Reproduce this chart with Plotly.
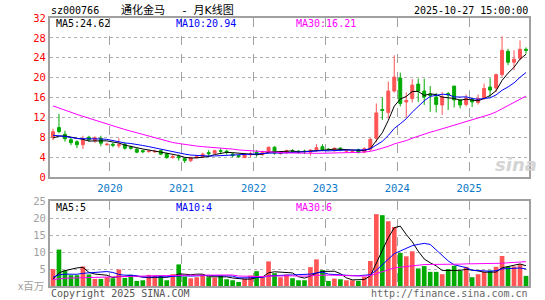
import plotly.graph_objects as go
import pandas as pd

# ---- data (monthly, Mar 2019 .. Oct 2025) ----
months = pd.period_range("2019-03", "2025-10", freq="M").strftime("%Y-%m").tolist()

open_ = [8.0, 9.95, 8.6, 7.5, 7.1, 6.5, 8.0, 7.3, 7.8, 6.5,
         6.6, 6.3, 6.6, 6.0, 5.6, 5.3, 5.1, 5.05, 5.3, 4.7,
         3.9, 4.1, 3.7, 3.3, 3.9, 4.1, 4.9, 4.8, 5.3, 5.2,
         4.6, 4.3, 3.9, 4.5, 5.0, 4.5, 5.0, 6.0, 4.7, 4.9,
         5.3, 5.2, 5.2, 5.0, 5.5, 6.1, 5.6, 5.3, 5.8, 5.2,
         5.0, 5.5, 5.0, 5.6, 7.8, 13.6, 13.0, 17.3, 19.9, 15.1,
         15.8, 18.7, 17.3, 16.7, 16.1, 14.5, 16.8, 18.3, 15.5, 14.6,
         15.6, 15.0, 15.9, 18.1, 17.9, 20.6, 25.3, 23.1, 23.9, 25.7]
high = [9.7, 12.7, 9.3, 8.0, 7.4, 8.3, 8.3, 8.2, 8.3, 6.9,
        6.9, 7.8, 6.9, 6.3, 5.9, 5.4, 5.5, 5.5, 5.5, 4.9,
        4.4, 4.5, 3.9, 4.1, 4.4, 4.9, 5.4, 5.5, 5.8, 5.5,
        4.9, 4.4, 4.7, 5.1, 5.4, 5.3, 6.1, 6.2, 5.1, 5.5,
        5.6, 5.4, 5.5, 5.6, 6.6, 6.6, 5.8, 5.9, 6.0, 5.6,
        5.5, 5.7, 6.0, 7.8, 14.8, 16.0, 19.2, 24.5, 21.0, 17.0,
        19.7, 19.8, 19.8, 18.3, 16.9, 17.1, 17.1, 18.3, 15.6, 16.6,
        15.8, 16.6, 18.8, 19.9, 20.8, 28.3, 25.8, 25.5, 27.5, 26.1]
low = [7.4, 8.8, 7.1, 6.4, 5.8, 5.6, 7.1, 6.9, 6.2, 6.3,
       6.0, 5.8, 5.5, 5.5, 4.8, 4.8, 4.9, 4.9, 4.4, 3.7,
       3.7, 3.3, 2.8, 3.0, 3.7, 3.8, 4.1, 4.6, 4.6, 4.5,
       4.0, 3.9, 3.8, 4.0, 4.1, 4.3, 4.8, 4.5, 4.5, 4.7,
       4.9, 4.7, 4.6, 4.3, 5.1, 5.2, 5.3, 5.1, 5.2, 5.0,
       4.9, 4.8, 4.8, 5.2, 7.0, 11.5, 11.8, 17.0, 14.2, 12.0,
       15.0, 15.1, 14.5, 13.1, 13.0, 12.5, 13.5, 14.0, 13.8, 14.2,
       14.1, 14.6, 15.5, 16.1, 17.1, 20.1, 22.5, 21.5, 23.5, 24.8]
close = [9.1, 9.15, 7.7, 6.9, 6.5, 7.6, 7.5, 7.9, 6.8, 6.6,
         6.4, 6.5, 5.8, 5.8, 5.0, 5.1, 5.2, 5.15, 4.6, 3.9,
         4.1, 3.9, 3.3, 3.9, 4.1, 4.6, 4.7, 5.3, 5.2, 5.0,
         4.3, 4.1, 4.5, 4.7, 4.8, 5.0, 6.0, 4.8, 4.9, 5.3,
         5.2, 5.0, 5.1, 5.4, 5.9, 5.5, 5.5, 5.8, 5.5, 5.3,
         5.1, 4.9, 5.7, 7.6, 12.9, 13.4, 17.3, 20.1, 14.8, 15.4,
         18.5, 17.3, 16.1, 16.4, 14.6, 16.1, 16.5, 15.5, 14.5, 15.8,
         15.1, 15.8, 17.8, 17.5, 20.6, 25.5, 23.1, 23.7, 25.7, 25.5]
volume = [5.0, 10.8, 4.6, 3.2, 3.2, 5.8, 3.4, 2.1, 2.1, 2.6,
          2.3, 4.9, 2.4, 3.3, 1.5, 1.7, 3.3, 3.1, 3.1, 1.7,
          3.5, 6.4, 2.8, 2.3, 2.6, 3.4, 2.6, 2.5, 3.1, 2.0,
          1.7, 1.2, 2.2, 3.1, 4.4, 2.5, 7.3, 3.8, 2.6, 3.4,
          2.3, 1.7, 1.7, 5.6, 7.9, 4.7, 1.5, 2.2, 2.0, 1.7,
          1.7, 1.5, 2.7, 7.4, 21.3, 21.0, 19.2, 17.5, 9.8, 8.8,
          10.3, 5.2, 5.9, 4.2, 4.2, 3.5, 5.0, 6.0, 4.5, 5.7,
          2.6, 3.5, 4.2, 4.6, 5.7, 8.9, 5.8, 5.8, 6.5, 3.0]

# months before the visible window (only used for the moving averages)
pre_close = [20.5, 21.0, 20.2, 19.8, 19.5, 19.9, 19.2, 18.8, 18.7,
             17.5, 16.6, 16.0, 15.6, 14.9,
             15.2, 14.8, 14.6, 14.3, 14.1, 13.8,
             9.8, 9.4, 8.9, 8.6, 8.1,
             7.2, 7.6, 7.9, 7.4]
pre_volume = [1.8, 1.6, 1.4, 1.5, 1.7, 1.3, 1.6, 1.5, 1.4, 1.8,
              1.6, 1.5, 1.4, 1.7, 1.5, 1.6, 1.4, 1.5, 1.6, 1.6,
              3.5, 2.8, 3.6, 3.1, 3.0,
              1.4, 1.2, 1.1, 1.3]

year_labels = ["2020", "2021", "2022", "2023", "2024", "2025"]
price_ticks = [0, 4, 8, 12, 16, 20, 24, 28, 32]
vol_ticks = [5, 10, 15, 20, 25]

stock_code = "sz000766"
NB = "\u00a0"
chart_title = "通化金马" + NB * 5 + "-" + NB * 2 + "月K线图"
timestamp = "2025-10-27 15:00:00"
price_ma_text = ["MA5:24.62", "MA10:20.94", "MA30:16.21"]
vol_ma_text = ["MA5:5", "MA10:4", "MA30:6"]

# ---- derived ----
n = len(months)
x = list(range(n))
npre = len(pre_close)
cs = pd.Series(pre_close + close)
vs = pd.Series(pre_volume + volume)
ma_periods = [5, 10, 30]
price_ma = [cs.rolling(p).mean().iloc[npre:].tolist() for p in ma_periods]
vol_ma = [vs.rolling(p).mean().iloc[npre:].tolist() for p in ma_periods]
year_pos = [months.index(y + "-01") - 0.5 for y in year_labels]

RED = "#ff5555"
GREEN = "#00aa00"
MA_COLORS = ["#000000", "#0000ff", "#ff00ff"]
MONO = "DejaVu Sans Mono, Noto Sans CJK SC"

fig = go.Figure()
fig.add_trace(go.Candlestick(
    x=x, open=open_, high=high, low=low, close=close,
    increasing=dict(line=dict(color=RED, width=1), fillcolor=RED),
    decreasing=dict(line=dict(color=GREEN, width=1), fillcolor=GREEN),
    xaxis="x", yaxis="y", showlegend=False, hoverinfo="skip"))
for ma, col in zip(price_ma, MA_COLORS):
    fig.add_trace(go.Scatter(x=x, y=ma, mode="lines", line=dict(color=col, width=1),
                             xaxis="x", yaxis="y", showlegend=False, hoverinfo="skip"))

bar_colors = [RED if c >= o else GREEN for o, c in zip(open_, close)]
fig.add_trace(go.Bar(x=x, y=volume, marker=dict(color=bar_colors, line=dict(width=0)),
                     width=0.78, xaxis="x2", yaxis="y2", showlegend=False, hoverinfo="skip"))
for ma, col in zip(vol_ma, MA_COLORS):
    fig.add_trace(go.Scatter(x=x, y=ma, mode="lines", line=dict(color=col, width=1),
                             xaxis="x2", yaxis="y2", showlegend=False, hoverinfo="skip"))

W, H = 545, 300
L, R, T, B = 50, 16, 18, 14
PW, PH = W - L - R, H - T - B


def px2paper(px, py):
    return (px - L) / PW, (H - B - py) / PH


price_dom = [px2paper(0, 177)[1], 1.0]
vol_dom = [0.0, px2paper(0, 201)[1]]

border = dict(showline=True, mirror=True, linecolor="#a0a0a0", linewidth=2)
xcommon = dict(range=[-0.5, n - 0.5], tickmode="array", tickvals=year_pos,
               showgrid=True, gridcolor="#a0a0a0", griddash="dash", gridwidth=1.2,
               zeroline=False, ticks="", fixedrange=True, automargin=False, **border)

fig.update_layout(
    width=W, height=H, margin=dict(l=L, r=R, t=T, b=B, autoexpand=False),
    paper_bgcolor="white", plot_bgcolor="white",
    xaxis=dict(domain=[0, 1], anchor="y", ticktext=year_labels,
               tickfont=dict(family=MONO, size=10.5, color="#0a78c8"),
               rangeslider=dict(visible=False), **xcommon),
    yaxis=dict(domain=price_dom, anchor="x", range=[0, 32], tickmode="array",
               tickvals=price_ticks, tickfont=dict(family=MONO, size=10.5, color="#ff0000"),
               showgrid=True, gridcolor="#b0b0b0", griddash="dot", gridwidth=1,
               zeroline=False, ticks="", fixedrange=True, automargin=False, **border),
    xaxis2=dict(domain=[0, 1], anchor="y2", showticklabels=False, **xcommon),
    yaxis2=dict(domain=vol_dom, anchor="x2", range=[0, 25.2], tickmode="array",
                tickvals=vol_ticks, tickfont=dict(family=MONO, size=10.5, color="#a0a0a0"),
                showgrid=True, gridcolor="#b0b0b0", griddash="dot", gridwidth=1,
                zeroline=False, ticks="", fixedrange=True, automargin=False, **border),
)


def ann(text, px, py, color, size=10, xanchor="left", family=MONO, **kw):
    xp, yp = px2paper(px, py)
    fig.add_annotation(text=text, x=xp, y=yp, xref="paper", yref="paper",
                       xanchor=xanchor, yanchor="middle", showarrow=False,
                       font=dict(family=family, size=size, color=color, **kw))


ann(stock_code, 49, 10.5, "#000000")
ann(chart_title, 119, 10.5, "#000000", size=11, xanchor="left",
    family="DejaVu Sans, Noto Sans CJK SC")
ann(timestamp, 530, 10.5, "#000000", xanchor="right")

for txt, xx, col in zip(price_ma_text, [54, 174, 294], MA_COLORS):
    ann(txt, xx, 24, col)
for txt, xx, col in zip(vol_ma_text, [54, 174, 294], MA_COLORS):
    ann(txt, xx, 207.5, col)

ann("x百万", 46, 285, "#a0a0a0", size=10.5, xanchor="right",
    family="Noto Sans CJK SC")
ann("Copyright 2025 SINA.COM", 49, 293.5, "#555555")
ann("http://finance.sina.com.cn", 530, 293.5, "#666666", xanchor="right")
ann("sina", 516, 164, "#d4d4d4", size=18, xanchor="center",
    family="DejaVu Sans", style="italic", weight="bold")

fig.write_html("out.html")
